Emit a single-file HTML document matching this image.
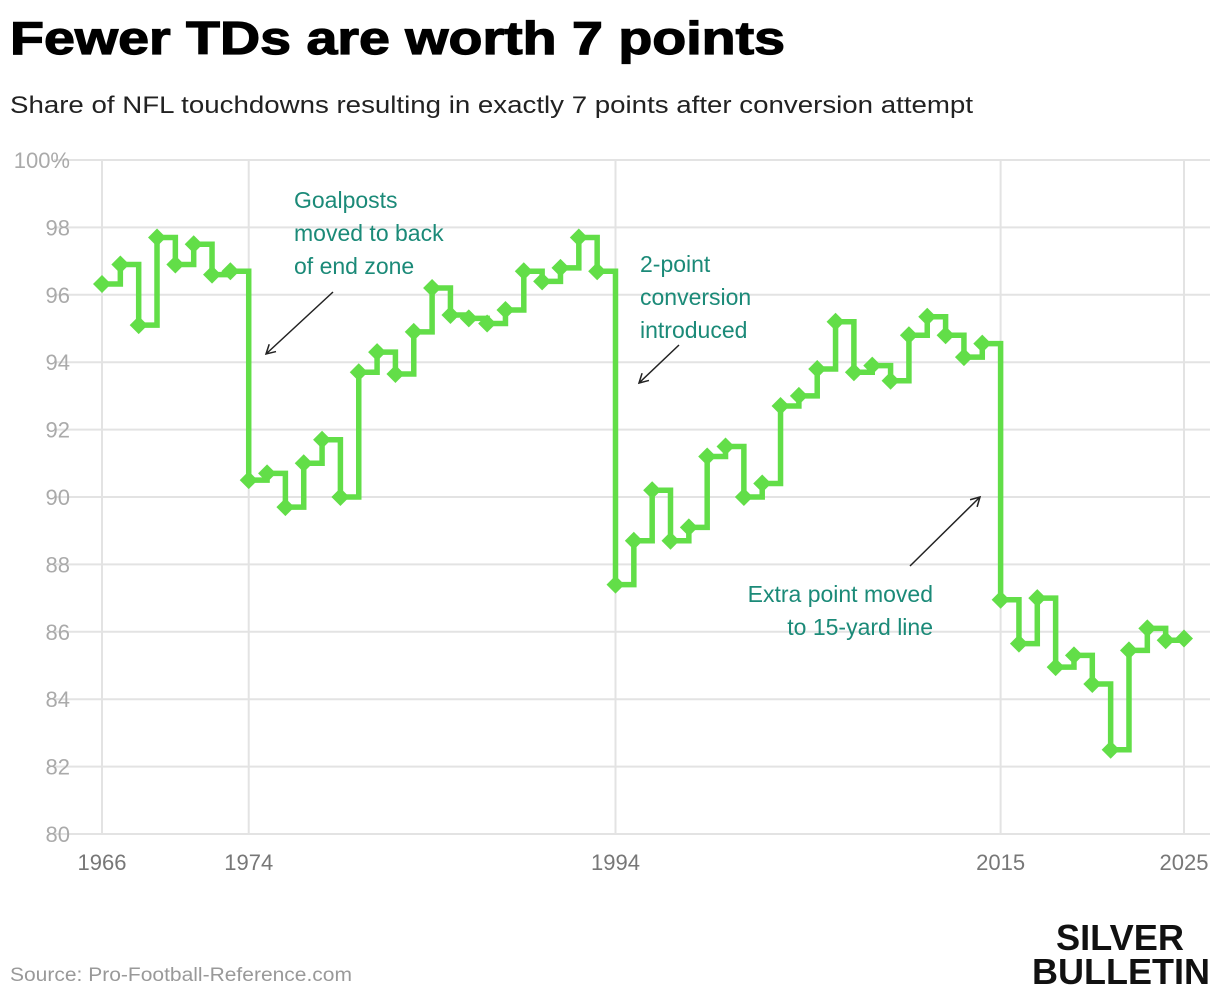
<!DOCTYPE html>
<html><head><meta charset="utf-8"><style>
body{margin:0;background:#fff;width:1220px;height:996px;overflow:hidden;font-family:"Liberation Sans",sans-serif}
svg{position:absolute;left:0;top:0}
</style></head><body>
<svg id="chart" width="1220" height="996">
<text x="10" y="54" font-size="46" font-weight="900" fill="#000" stroke="#000" stroke-width="1.2" textLength="775" lengthAdjust="spacingAndGlyphs">Fewer TDs are worth 7 points</text>
<text x="10" y="113" font-size="24" fill="#222" textLength="963" lengthAdjust="spacingAndGlyphs">Share of NFL touchdowns resulting in exactly 7 points after conversion attempt</text>
<g id="grid"></g>
<g id="annot"></g>
<g id="series"></g>
<text x="10" y="981" font-size="19" fill="#999" textLength="342" lengthAdjust="spacingAndGlyphs">Source: Pro-Football-Reference.com</text>
<text x="1184" y="950" font-size="36" font-weight="bold" fill="#111" text-anchor="end" textLength="128" lengthAdjust="spacingAndGlyphs">SILVER</text>
<text x="1210" y="984" font-size="36" font-weight="bold" fill="#111" text-anchor="end" textLength="178" lengthAdjust="spacingAndGlyphs">BULLETIN</text>
</svg>
<script>
const years=[];for(let y=1966;y<=2025;y++)years.push(y);
const shares=[96.32,96.9,95.1,97.7,96.9,97.5,96.6,96.7,90.5,90.7,89.7,91.0,91.7,90.0,93.7,94.3,93.65,94.9,96.2,95.4,95.3,95.15,95.55,96.7,96.4,96.8,97.7,96.7,87.4,88.7,90.2,88.7,89.1,91.2,91.5,90.0,90.4,92.7,93.0,93.8,95.2,93.7,93.9,93.45,94.8,95.35,94.8,94.15,94.55,86.95,85.65,87.0,84.95,85.3,84.45,82.5,85.45,86.1,85.75,85.8];
const yTicks=[80,82,84,86,88,90,92,94,96,98,100];
const xTicks=[1966,1974,1994,2015,2025];
const NS="http://www.w3.org/2000/svg";
const X=y=>102+(y-1966)*(1082/59);
const Y=v=>834-(v-80)*33.7;
function mk(tag,attrs,parent){const e=document.createElementNS(NS,tag);for(const k in attrs)e.setAttribute(k,attrs[k]);parent.appendChild(e);return e;}
const grid=document.getElementById('grid');
yTicks.forEach(t=>{
  const l=mk('line',{x1:54,x2:1210,y1:Y(t),y2:Y(t),stroke:'#e3e3e3','stroke-width':2},grid);
  
  
  const tx=mk('text',{x:70,y:Y(t)+8,'font-size':22,fill:'#aaa','text-anchor':'end','font-family':'Liberation Sans Narrow, Liberation Sans, sans-serif'},grid);
  tx.textContent=t===100?'100%':t;
  
  
});
xTicks.forEach(t=>{
  const l=mk('line',{x1:X(t),x2:X(t),y1:160,y2:834,stroke:'#e3e3e3','stroke-width':2},grid);
  
  
  const tx=mk('text',{x:X(t),y:870,'font-size':22,fill:'#777','text-anchor':'middle','font-family':'Liberation Sans Narrow, Liberation Sans, sans-serif'},grid);
  tx.textContent=t;
  
  
});
const ann=document.getElementById('annot');
mk('defs',{},ann).innerHTML='<marker id="ah" markerWidth="12" markerHeight="12" refX="10" refY="6" orient="auto" markerUnits="userSpaceOnUse"><path d="M1,1 L10,6 L1,11" fill="none" stroke="#222" stroke-width="1.5"/></marker>';
function note(lines,x,y,anchor,name){
  const t=mk('text',{x:x,y:y,'font-size':23,fill:'#1b8a78','text-anchor':anchor,'font-family':'Liberation Sans Narrow, Liberation Sans, sans-serif'},ann);
  
  
  lines.forEach((s,i)=>{const ts=mk('tspan',{x:x,dy:i?33:0},t);ts.textContent=s;});
}
note(['Goalposts','moved to back','of end zone'],294,208,'start','annotation-goalposts');
note(['2-point','conversion','introduced'],640,272,'start','annotation-2pt');
note(['Extra point moved','to 15-yard line'],933,602,'end','annotation-extra-point');
[[333,292,266,354],[679,345,639,383],[910,566,980,497]].forEach(a=>{
  const l=mk('line',{x1:a[0],y1:a[1],x2:a[2],y2:a[3],stroke:'#222','stroke-width':1.5,'marker-end':'url(#ah)'},ann);
  
  
});
const s=document.getElementById('series');
let d='';
years.forEach((yr,i)=>{d+=(i?'V'+Y(shares[i]):'M'+X(yr)+' '+Y(shares[i]));if(i<years.length-1)d+='H'+X(years[i+1]);});
const p=mk('path',{d:d,fill:'none',stroke:'#62de48','stroke-width':5.5,'stroke-linejoin':'miter'},s);


years.forEach((yr,i)=>{
  const cx=X(yr),cy=Y(shares[i]),r=9;
  const m=mk('path',{d:`M${cx} ${cy-r}L${cx+r} ${cy}L${cx} ${cy+r}L${cx-r} ${cy}Z`,fill:'#62de48'},s);
  
  
});
</script>
</body></html>
